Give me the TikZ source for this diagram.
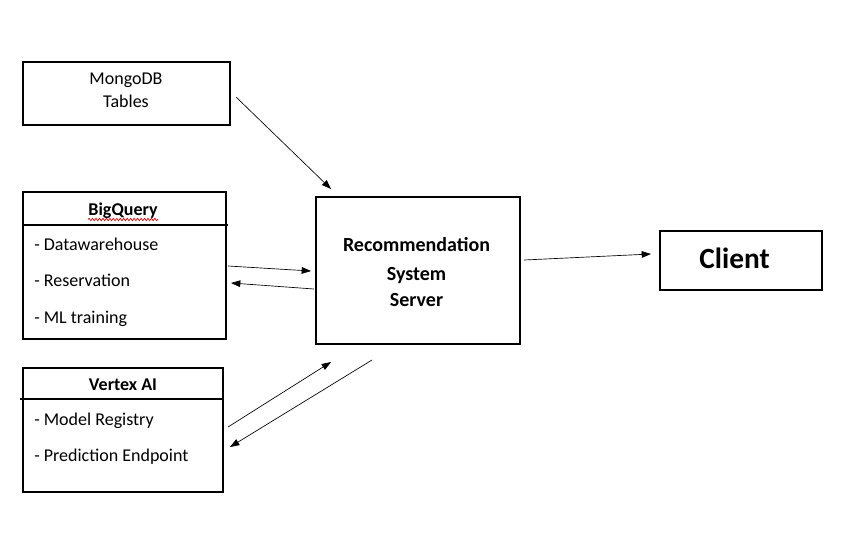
\documentclass[tikz,border=0pt]{standalone}
\usepackage{fontspec}
\setmainfont{Carlito}
\usetikzlibrary{arrows.meta,decorations.pathmorphing}
\begin{document}
\begin{tikzpicture}[x=0.75pt,y=-0.75pt,
  box/.style={draw,line width=0.8pt,minimum width=#1,inner sep=0pt},
  txt/.style={inner sep=0pt,anchor=base,font=\fontsize{13.5}{16}\selectfont},
  hdr/.style={inner sep=0pt,anchor=base,font=\fontsize{13.5}{16}\selectfont\bfseries},
  rectxt/.style={inner sep=0pt,anchor=base,font=\fontsize{15}{18}\selectfont\bfseries},
  item/.style={inner sep=0pt,anchor=base west,font=\fontsize{13.5}{16}\selectfont},
  conn/.style={line width=0.5pt,-{Triangle[length=7pt,width=5pt]}}]
\useasboundingbox[fill=white] (0,0) rectangle (866,533);
% boxes
\node[box=155.25pt,minimum height=47.25pt] (mongo) at (126.5,93.5) {};
\node[box=152.25pt,minimum height=110.25pt] (bq) at (124.5,265.5) {};
\node[box=150pt,minimum height=93pt] (vx) at (123,430) {};
\node[box=153pt,minimum height=110.25pt] (rec) at (418,270.5) {};
\node[box=121.5pt,minimum height=44.25pt] (client) at (741,260.5) {};
% header lines
\coordinate (bqhl) at (23,225);
\coordinate (bqhr) at (228,225);
\draw[line width=0.8pt] (bqhl) -- (bqhr);
\coordinate (vxhl) at (20,399);
\coordinate (vxhr) at (223,399);
\draw[line width=0.8pt] (vxhl) -- (vxhr);
% texts
\node[txt] (t1) at (126,84) {MongoDB};
\node[txt] (t2) at (126,107) {Tables};
\node[hdr] (t3) at (123,215) {BigQuery};
\coordinate (sqa) at (88,219.5);
\coordinate (sqb) at (158,219.5);
\draw[red!80!black,line width=0.5pt,decorate,decoration={snake,amplitude=0.9pt,segment length=2.6pt}] (sqa) -- (sqb);
\node[item] (t4) at (34,250) {- Datawarehouse};
\node[item] (t5) at (34,286.5) {- Reservation};
\node[item] (t6) at (34,323) {- ML training};
\node[hdr] (t7) at (123,390.5) {Vertex AI};
\node[item] (t8) at (34,425) {- Model Registry};
\node[item] (t9) at (34,461.5) {- Prediction Endpoint};
\node[rectxt] (r1) at (416.5,251) {Recommendation};
\node[rectxt] (r2) at (416.5,280) {System};
\node[rectxt] (r3) at (416.5,306.5) {Server};
\node[inner sep=0pt,anchor=base,font=\fontsize{22}{26}\selectfont\bfseries] (c1) at (734.5,268.5) {Client};
% arrow end points
\coordinate (a1s) at (236,97);   \coordinate (a1e) at (331,189);
\coordinate (a2s) at (228,266);  \coordinate (a2e) at (311,271);
\coordinate (a3s) at (314,289);  \coordinate (a3e) at (231,283);
\coordinate (a4s) at (228,427);  \coordinate (a4e) at (331,362);
\coordinate (a5s) at (372,360);  \coordinate (a5e) at (230,447);
\coordinate (a6s) at (524,260);  \coordinate (a6e) at (651,254);
\draw[conn] (a1s) -- (a1e);
\draw[conn] (a2s) -- (a2e);
\draw[conn] (a3s) -- (a3e);
\draw[conn] (a4s) -- (a4e);
\draw[conn] (a5s) -- (a5e);
\draw[conn] (a6s) -- (a6e);
\end{tikzpicture}
\end{document}
